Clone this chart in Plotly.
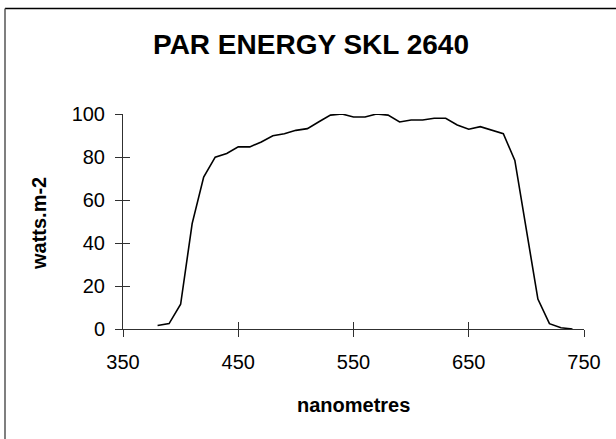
import plotly.graph_objects as go

wavelength_nm = [380, 390, 400, 410, 420, 430, 440, 450, 460, 470, 480, 490, 500,
                 510, 520, 530, 540, 550, 560, 570, 580, 590, 600, 610, 620, 630,
                 640, 650, 660, 670, 680, 690, 700, 710, 720, 730, 740]
energy_w_m2 = [1.6, 2.5, 11.5, 49, 70.7, 79.9, 81.6, 84.7, 84.7, 87, 89.9, 90.8, 92.4,
               93.2, 96.4, 99.5, 100, 98.6, 98.6, 100, 99.5, 96.3, 97.2, 97.2, 98, 98,
               94.9, 92.9, 94.1, 92.5, 90.8, 78.4, 46, 13.9, 2.5, 0.6, 0]
x_ticks = [350, 450, 550, 650, 750]
y_ticks = [0, 20, 40, 60, 80, 100]
title_text = "PAR ENERGY SKL 2640"
x_title = "nanometres"
y_title = "watts.m-2"

W, H = 616, 439
L, R, T, B = 123, 32, 114, 110
pw, ph = W - L - R, H - T - B

def px_x(p):
    return (p - L) / pw

def px_y(p):
    return 1 - (p - T) / ph

FONT = "Liberation Sans, Arial, sans-serif"
AX = "#303030"

fig = go.Figure()
fig.add_trace(go.Scatter(x=wavelength_nm, y=energy_w_m2, mode="lines",
                         line=dict(color="black", width=1.6),
                         showlegend=False, cliponaxis=False, hoverinfo="x+y"))
fig.add_trace(go.Scatter(x=[], y=[], xaxis="x2", yaxis="y2", showlegend=False))

common = dict(showgrid=False, zeroline=False, showline=True, linecolor=AX,
              linewidth=1, tickcolor=AX, tickwidth=1, ticklen=7)
fig.update_layout(
    width=W, height=H,
    margin=dict(l=L, r=R, t=T, b=B),
    paper_bgcolor="white", plot_bgcolor="white",
    font=dict(family=FONT, color="black"),
    xaxis=dict(range=[350, 750], tickvals=x_ticks, ticktext=[str(v) for v in x_ticks],
               ticks="outside", tickfont=dict(size=20), ticklabelstandoff=8, **common),
    yaxis=dict(range=[0, 100], tickvals=y_ticks, ticktext=[str(v) for v in y_ticks],
               ticks="outside", tickfont=dict(size=20), ticklabelstandoff=6, **common),
    xaxis2=dict(range=[350, 750], tickvals=x_ticks, ticks="inside", overlaying="x",
                showticklabels=False, **common),
    yaxis2=dict(range=[0, 100], tickvals=y_ticks, ticks="inside", overlaying="y",
                showticklabels=False, **common),
    title=dict(text="<b>" + title_text + "</b>", x=311 / W, xanchor="center",
               y=1 - 44 / H, yanchor="middle", font=dict(size=28, family=FONT)),
    annotations=[
        dict(text="<b>" + x_title + "</b>", xref="paper", yref="paper",
             x=px_x(353), y=px_y(405), xanchor="center", yanchor="middle",
             showarrow=False, font=dict(size=20, family=FONT)),
        dict(text="<b>" + y_title + "</b>", xref="paper", yref="paper",
             x=px_x(39), y=px_y(224), xanchor="center", yanchor="middle",
             textangle=-90, showarrow=False, font=dict(size=20, family=FONT)),
    ],
    shapes=[
        dict(type="line", xref="paper", yref="paper",
             x0=px_x(5), y0=px_y(8.5), x1=px_x(700), y1=px_y(8.5),
             line=dict(color="black", width=1.5), layer="below"),
        dict(type="line", xref="paper", yref="paper",
             x0=px_x(5), y0=px_y(8.5), x1=px_x(5), y1=px_y(500),
             line=dict(color="#555555", width=1.5), layer="below"),
    ],
)

fig.write_html("out.html", config={"displayModeBar": False},
               post_script="document.body.style.margin='0';"
                           "document.body.style.overflow='hidden';")
